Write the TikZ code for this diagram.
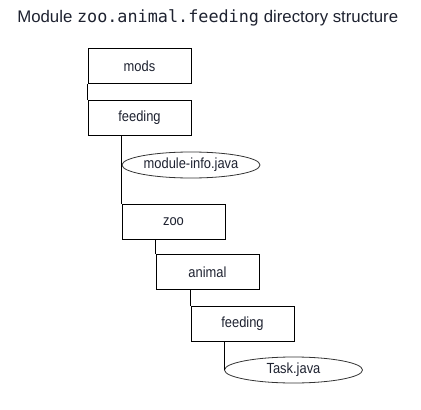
\documentclass[tikz,border=0pt]{standalone}
\usepackage{fontspec}
\setmainfont{Liberation Sans}
\newfontfamily\labelfont[FakeStretch=0.88]{Liberation Sans}
\newfontfamily\titlemono{DejaVu Sans Mono}
\usetikzlibrary{shapes.geometric}
\definecolor{ink}{HTML}{1E2230}
\begin{document}
\begin{tikzpicture}[x=0.75pt,y=-0.75pt,
  dirbox/.style={draw=black, line width=0.75pt, minimum width=77.25pt, minimum height=26.25pt, inner sep=0pt, text=ink, font=\labelfont\fontsize{11}{13}\selectfont},
  filebox/.style={ellipse, draw=black!80, line width=0.6pt, minimum width=103.5pt, minimum height=19.5pt, inner sep=0pt, text=ink, font=\labelfont\fontsize{11}{13}\selectfont},
  conn/.style={draw=black, line width=0.75pt}]
\useasboundingbox (0,0) rectangle (421,410);
\node[anchor=base west, text=ink, inner sep=0pt, font=\fontsize{12.6}{14}\selectfont] (title) at (17,23) {Module {\titlemono zoo.animal.feeding} directory structure};
\node[dirbox] (mods) at (139.5,66.5) {mods};
\node[dirbox] (feed1) at (139.5,118) {feeding};
\node[filebox] (minfo) at (191,165) {module-info.java};
\node[dirbox] (zoo) at (173.5,221.5) {zoo};
\node[dirbox] (animal) at (207.5,272) {animal};
\node[dirbox] (feed2) at (242.5,323.5) {feeding};
\node[filebox] (task) at (293.5,370) {Task.java};
\draw[conn] (mods.south west) -- (feed1.north west);
\draw[conn] (zoo.north west) -- (zoo.north west |- feed1.south);
\draw[conn] (animal.north west) -- (animal.north west |- zoo.south);
\draw[conn] (feed2.north west) -- (feed2.north west |- animal.south);
\draw[conn] (task.west) -- (task.west |- feed2.south);
\end{tikzpicture}
\end{document}
